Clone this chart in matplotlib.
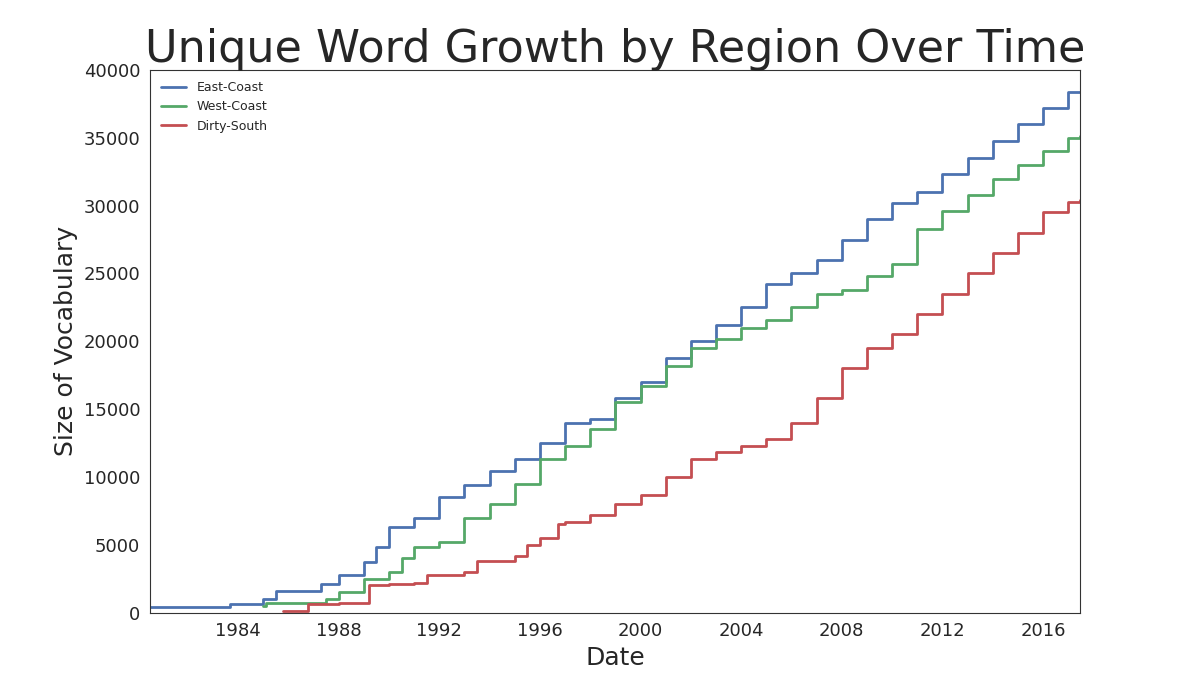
import matplotlib
matplotlib.use("Agg")
import matplotlib.pyplot as plt
import seaborn as sns

sns.set_style("white")
plt.rcParams['font.family'] = ['DejaVu Sans']

east_x = [1980.5, 1983.7, 1985.0, 1985.5, 1987.3, 1988, 1989, 1989.5, 1990, 1991, 1992, 1993, 1994, 1995,
          1996, 1997, 1998, 1999, 2000, 2001, 2002, 2003, 2004, 2005, 2006, 2007, 2008, 2009, 2010,
          2011, 2012, 2013, 2014, 2015, 2016, 2017, 2017.47]
east_y = [400, 600, 1000, 1600, 2100, 2800, 3700, 4800, 6300, 7000, 8500, 9400, 10400, 11300,
          12500, 14000, 14300, 15800, 17000, 18800, 20000, 21200, 22500, 24200, 25000, 26000, 27500,
          29000, 30200, 31000, 32300, 33500, 34800, 36000, 37200, 38400, 38400]

west_x = [1985.0, 1985.1, 1987.5, 1988, 1989, 1990, 1990.5, 1991, 1992, 1993, 1994, 1995, 1996,
          1997, 1998, 1999, 2000, 2001, 2002, 2003, 2004, 2005, 2006, 2007, 2008, 2009, 2010, 2011,
          2012, 2013, 2014, 2015, 2016, 2017, 2017.47]
west_y = [500, 700, 1000, 1500, 2500, 3000, 4000, 4800, 5200, 7000, 8000, 9500, 11300,
          12300, 13500, 15500, 16700, 18200, 19500, 20200, 21000, 21600, 22500, 23500, 23800, 24800,
          25700, 28300, 29600, 30800, 32000, 33000, 34000, 35000, 35100]

south_x = [1985.8, 1986.8, 1988, 1989, 1989.2, 1990, 1991, 1991.5, 1993, 1993.5, 1995, 1995.5, 1996,
           1996.7, 1997, 1998, 1999, 2000, 2001, 2002, 2003, 2004, 2005, 2006, 2007, 2008, 2009,
           2010, 2011, 2012, 2013, 2014, 2015, 2016, 2017, 2017.47]
south_y = [100, 600, 700, 700, 2000, 2100, 2200, 2800, 3000, 3800, 4200, 5000, 5500,
           6500, 6700, 7200, 8000, 8700, 10000, 11300, 11800, 12300, 12800, 14000, 15800, 18000, 19500,
           20500, 22000, 23500, 25000, 26500, 28000, 29500, 30300, 30400]

year_ticks = list(range(1984, 2017, 4))

fig, ax = plt.subplots(figsize=(12, 7), dpi=100)
ax.plot(east_x, east_y, drawstyle='steps-post', color='#4c72b0', lw=2, label='East-Coast')
ax.plot(west_x, west_y, drawstyle='steps-post', color='#55a868', lw=2, label='West-Coast')
ax.plot(south_x, south_y, drawstyle='steps-post', color='#c44e52', lw=2, label='Dirty-South')

ax.set_xlim(1980.5, 2017.47)
ax.set_ylim(0, 40000)
ax.set_xticks(year_ticks)
ax.set_xticklabels([str(y) for y in year_ticks])
ax.tick_params(labelsize=13)
for s in ax.spines.values():
    s.set_color('#333333')
ax.set_xlabel('Date', fontsize=18)
ax.set_ylabel('Size of Vocabulary', fontsize=18)
ax.set_title('Unique Word Growth by Region Over Time', fontsize=32, color='#262626')
ax.legend(loc='upper left', fontsize=9, frameon=False)

plt.subplots_adjust(left=0.125, right=0.9, top=0.9, bottom=0.125)
plt.savefig('out.png')
